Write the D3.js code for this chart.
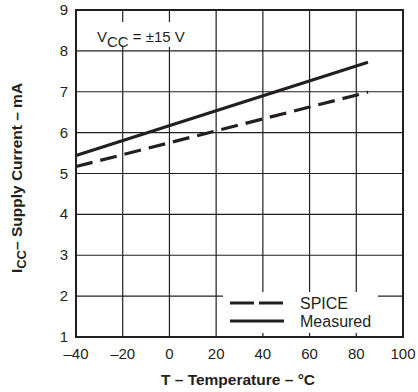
<!DOCTYPE html>
<html><head><meta charset="utf-8">
<script src="https://cdn.jsdelivr.net/npm/d3@7"></script>
<style>body{margin:0;background:#fff}svg text{font-family:"Liberation Sans",Arial,sans-serif;fill:#231f20}</style>
</head><body><svg id="c" width="418" height="392"></svg>
<script>
const xTicks = [-40,-20,0,20,40,60,80,100];
const yTicks = [1,2,3,4,5,6,7,8,9];
const temps = [-40, 85];
const spice = [5.17, 6.99];
const measured = [5.44, 7.72];
const seriesNames = ["SPICE","Measured"];

const svg = d3.select("#c");
const L=76,R=403,T=10,B=337;
const x = d3.scaleLinear().domain([-40,100]).range([L,R]);
const y = d3.scaleLinear().domain([1,9]).range([B,T]);
const ink="#231f20";
const fmt = d => d<0 ? "\u2013"+Math.abs(d) : String(d);

// grid
svg.append("g").selectAll("line").data(xTicks.slice(1,-1)).join("line")
  .attr("x1",d=>x(d)).attr("x2",d=>x(d)).attr("y1",T).attr("y2",B)
  .attr("stroke",ink).attr("stroke-width",1.2);
svg.append("g").selectAll("line").data(yTicks.slice(1,-1)).join("line")
  .attr("y1",d=>y(d)).attr("y2",d=>y(d)).attr("x1",L).attr("x2",R)
  .attr("stroke",ink).attr("stroke-width",1.2);

// white boxes for label and legend
svg.append("rect").attr("x",85).attr("y",22).attr("width",122).attr("height",25).attr("fill","#fff");
svg.append("rect").attr("x",223).attr("y",292).attr("width",155).attr("height",41).attr("fill","#fff");

// lines
const line = d3.line().x(d=>x(d[0])).y(d=>y(d[1]));
svg.append("path").attr("d",line(temps.map((t,i)=>[t,spice[i]])))
  .attr("fill","none").attr("stroke",ink).attr("stroke-width",3.2).attr("stroke-dasharray","17,8");
svg.append("path").attr("d",line(temps.map((t,i)=>[t,measured[i]])))
  .attr("fill","none").attr("stroke",ink).attr("stroke-width",3.2);

// frame
svg.append("rect").attr("x",L).attr("y",T).attr("width",R-L).attr("height",B-T)
  .attr("fill","none").attr("stroke",ink).attr("stroke-width",2);

// axes labels
svg.append("g").selectAll("text").data(yTicks).join("text")
  .attr("x",L-8).attr("y",d=>y(d)+5).attr("text-anchor","end").attr("font-size",15).text(d=>d);
svg.append("g").selectAll("text").data(xTicks).join("text")
  .attr("x",d=>x(d)).attr("y",359).attr("text-anchor","middle").attr("font-size",15).text(fmt);

// titles
svg.append("text").attr("x",238).attr("y",385).attr("text-anchor","middle")
  .attr("font-size",15.5).attr("font-weight","bold").text("T \u2013 Temperature \u2013 \u00B0C");
const yt = svg.append("text").attr("transform","translate(22,178) rotate(-90)")
  .attr("text-anchor","middle").attr("font-size",15.5).attr("font-weight","bold");
yt.append("tspan").text("I");
yt.append("tspan").attr("dy",4).attr("font-size",13).text("CC");
yt.append("tspan").attr("dy",-4).text("\u2013 Supply Current \u2013 mA");

// Vcc label
const vl = svg.append("text").attr("x",97).attr("y",42).attr("font-size",15);
vl.append("tspan").text("V");
vl.append("tspan").attr("dy",5).text("CC");
vl.append("tspan").attr("dy",-5).text(" = \u00B115 V");

// legend
const lg = svg.append("g");
lg.append("line").attr("x1",230).attr("x2",284).attr("y1",303).attr("y2",303)
  .attr("stroke",ink).attr("stroke-width",3.2).attr("stroke-dasharray","24,5");
lg.append("line").attr("x1",230).attr("x2",284).attr("y1",321).attr("y2",321)
  .attr("stroke",ink).attr("stroke-width",3.2);
lg.selectAll("text").data(seriesNames).join("text")
  .attr("x",300).attr("y",(d,i)=>309+i*18).attr("font-size",16).text(d=>d);
</script></body></html>
